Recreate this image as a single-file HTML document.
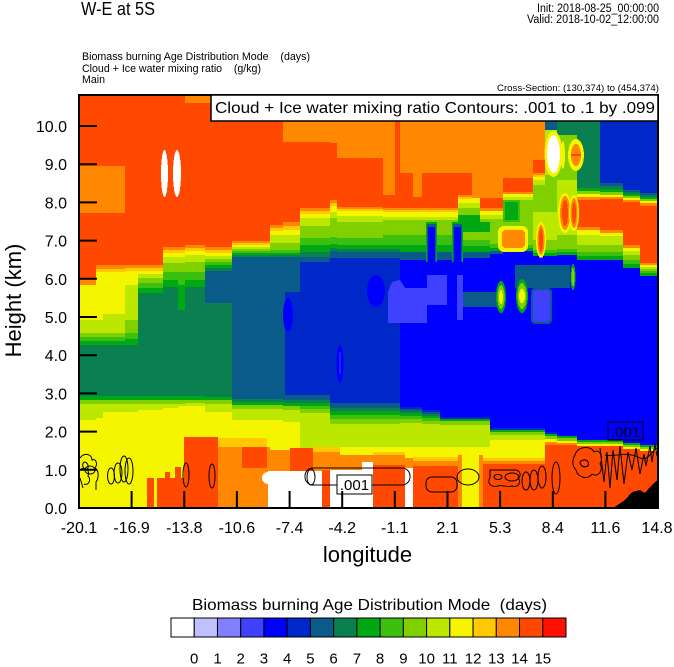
<!DOCTYPE html>
<html><head><meta charset="utf-8"><style>
html,body{margin:0;padding:0;background:#fff;width:674px;height:667px;overflow:hidden}
svg{display:block;overflow:hidden}
text{font-family:"Liberation Sans",Arial,sans-serif;fill:#000}
.c0{fill:#ffffff}.c1{fill:#c0c0ff}.c2{fill:#8080ff}.c3{fill:#4040ff}.c4{fill:#0000ff}.c5{fill:#0028c8}
.c6{fill:#0a5a8a}.c7{fill:#0a8050}.c8{fill:#00a814}.c9{fill:#3cc010}.c10{fill:#80d000}.c11{fill:#bce800}
.c12{fill:#f5f500}.c13{fill:#ffc800}.c14{fill:#ff8800}.c15{fill:#ff4800}.c16{fill:#ff1000}
.ct{fill:none;stroke:#000;stroke-width:1}
</style></head><body>
<svg width="674" height="667" viewBox="0 0 674 667" xmlns="http://www.w3.org/2000/svg">
<defs><clipPath id="p"><rect x="79" y="95" width="579" height="413"/></clipPath></defs>
<g clip-path="url(#p)" shape-rendering="crispEdges">
<rect x="79" y="95" width="579" height="413" class="c15"/>
<!-- S1 -->
<rect x="79" width="17" y="166" height="342" class="c14"/><rect x="79" width="17" y="213" height="295" class="c15"/><rect x="79" width="17" y="280" height="228" class="c14"/><rect x="79" width="17" y="285" height="223" class="c12"/><rect x="79" width="17" y="320" height="188" class="c11"/><rect x="79" width="17" y="333" height="175" class="c10"/><rect x="79" width="17" y="337" height="171" class="c9"/><rect x="79" width="17" y="341" height="167" class="c8"/><rect x="79" width="17" y="345" height="163" class="c7"/><rect x="79" width="17" y="396" height="112" class="c8"/><rect x="79" width="17" y="400" height="108" class="c10"/><rect x="79" width="17" y="404" height="104" class="c11"/><rect x="79" width="17" y="420" height="88" class="c12"/>
<!-- S2 -->
<rect x="96" width="7" y="166" height="342" class="c14"/><rect x="96" width="7" y="213" height="295" class="c15"/><rect x="96" width="7" y="265" height="243" class="c14"/><rect x="96" width="7" y="269" height="239" class="c13"/><rect x="96" width="7" y="272" height="236" class="c12"/><rect x="96" width="7" y="320" height="188" class="c11"/><rect x="96" width="7" y="333" height="175" class="c10"/><rect x="96" width="7" y="337" height="171" class="c9"/><rect x="96" width="7" y="341" height="167" class="c8"/><rect x="96" width="7" y="345" height="163" class="c7"/><rect x="96" width="7" y="396" height="112" class="c8"/><rect x="96" width="7" y="400" height="108" class="c10"/><rect x="96" width="7" y="404" height="104" class="c11"/><rect x="96" width="7" y="418" height="90" class="c12"/>
<!-- S3 -->
<rect x="103" width="22" y="166" height="342" class="c14"/><rect x="103" width="22" y="213" height="295" class="c15"/><rect x="103" width="22" y="265" height="243" class="c14"/><rect x="103" width="22" y="269" height="239" class="c13"/><rect x="103" width="22" y="272" height="236" class="c12"/><rect x="103" width="22" y="314" height="194" class="c11"/><rect x="103" width="22" y="333" height="175" class="c10"/><rect x="103" width="22" y="337" height="171" class="c9"/><rect x="103" width="22" y="341" height="167" class="c8"/><rect x="103" width="22" y="345" height="163" class="c7"/><rect x="103" width="22" y="396" height="112" class="c8"/><rect x="103" width="22" y="400" height="108" class="c10"/><rect x="103" width="22" y="404" height="104" class="c11"/><rect x="103" width="22" y="412" height="96" class="c12"/>
<!-- S4 -->
<rect x="125" width="13" y="265" height="243" class="c14"/><rect x="125" width="13" y="268" height="240" class="c13"/><rect x="125" width="13" y="271" height="237" class="c12"/><rect x="125" width="13" y="285" height="223" class="c11"/><rect x="125" width="13" y="320" height="188" class="c10"/><rect x="125" width="13" y="333" height="175" class="c9"/><rect x="125" width="13" y="339" height="169" class="c8"/><rect x="125" width="13" y="345" height="163" class="c7"/><rect x="125" width="13" y="396" height="112" class="c8"/><rect x="125" width="13" y="400" height="108" class="c10"/><rect x="125" width="13" y="404" height="104" class="c11"/><rect x="125" width="13" y="412" height="96" class="c12"/>
<!-- S5 -->
<rect x="138" width="25" y="265" height="243" class="c14"/><rect x="138" width="25" y="268" height="240" class="c13"/><rect x="138" width="25" y="271" height="237" class="c12"/><rect x="138" width="25" y="274" height="234" class="c11"/><rect x="138" width="25" y="278" height="230" class="c10"/><rect x="138" width="25" y="283" height="225" class="c9"/><rect x="138" width="25" y="288" height="220" class="c8"/><rect x="138" width="25" y="293" height="215" class="c7"/><rect x="138" width="25" y="396" height="112" class="c8"/><rect x="138" width="25" y="400" height="108" class="c10"/><rect x="138" width="25" y="404" height="104" class="c11"/><rect x="138" width="25" y="410" height="98" class="c12"/>
<!-- S6 -->
<rect x="163" width="15" y="247" height="261" class="c14"/><rect x="163" width="15" y="250" height="258" class="c13"/><rect x="163" width="15" y="253" height="255" class="c12"/><rect x="163" width="15" y="257" height="251" class="c11"/><rect x="163" width="15" y="263" height="245" class="c10"/><rect x="163" width="15" y="272" height="236" class="c9"/><rect x="163" width="15" y="280" height="228" class="c8"/><rect x="163" width="15" y="287" height="221" class="c7"/><rect x="163" width="15" y="396" height="112" class="c8"/><rect x="163" width="15" y="400" height="108" class="c10"/><rect x="163" width="15" y="404" height="104" class="c11"/><rect x="163" width="15" y="408" height="100" class="c12"/>
<!-- S7 -->
<rect x="178" width="7" y="247" height="261" class="c14"/><rect x="178" width="7" y="250" height="258" class="c13"/><rect x="178" width="7" y="253" height="255" class="c12"/><rect x="178" width="7" y="257" height="251" class="c11"/><rect x="178" width="7" y="263" height="245" class="c10"/><rect x="178" width="7" y="272" height="236" class="c9"/><rect x="178" width="7" y="285" height="223" class="c8"/><rect x="178" width="7" y="310" height="198" class="c7"/><rect x="178" width="7" y="396" height="112" class="c8"/><rect x="178" width="7" y="400" height="108" class="c10"/><rect x="178" width="7" y="404" height="104" class="c11"/><rect x="178" width="7" y="406" height="102" class="c12"/>
<!-- S8 -->
<rect x="185" width="20" y="245" height="263" class="c14"/><rect x="185" width="20" y="248" height="260" class="c13"/><rect x="185" width="20" y="251" height="257" class="c12"/><rect x="185" width="20" y="255" height="253" class="c11"/><rect x="185" width="20" y="262" height="246" class="c10"/><rect x="185" width="20" y="272" height="236" class="c9"/><rect x="185" width="20" y="280" height="228" class="c8"/><rect x="185" width="20" y="287" height="221" class="c7"/><rect x="185" width="20" y="396" height="112" class="c8"/><rect x="185" width="20" y="400" height="108" class="c10"/><rect x="185" width="20" y="403" height="105" class="c11"/><rect x="185" width="20" y="406" height="102" class="c12"/>
<!-- S9 -->
<rect x="205" width="27" y="247" height="261" class="c14"/><rect x="205" width="27" y="250" height="258" class="c13"/><rect x="205" width="27" y="253" height="255" class="c12"/><rect x="205" width="27" y="256" height="252" class="c11"/><rect x="205" width="27" y="259" height="249" class="c10"/><rect x="205" width="27" y="262" height="246" class="c9"/><rect x="205" width="27" y="265" height="243" class="c8"/><rect x="205" width="27" y="268" height="240" class="c7"/><rect x="205" width="27" y="397" height="111" class="c8"/><rect x="205" width="27" y="400" height="108" class="c10"/><rect x="205" width="27" y="404" height="104" class="c11"/><rect x="205" width="27" y="412" height="96" class="c12"/>
<!-- S10 -->
<rect x="232" width="38" y="241" height="267" class="c14"/><rect x="232" width="38" y="243" height="265" class="c13"/><rect x="232" width="38" y="245" height="263" class="c12"/><rect x="232" width="38" y="247" height="261" class="c11"/><rect x="232" width="38" y="249" height="259" class="c10"/><rect x="232" width="38" y="251" height="257" class="c9"/><rect x="232" width="38" y="253" height="255" class="c8"/><rect x="232" width="38" y="255" height="253" class="c7"/><rect x="232" width="38" y="257" height="251" class="c6"/><rect x="232" width="38" y="399" height="109" class="c7"/><rect x="232" width="38" y="402" height="106" class="c8"/><rect x="232" width="38" y="405" height="103" class="c10"/><rect x="232" width="38" y="409" height="99" class="c11"/><rect x="232" width="38" y="420" height="88" class="c12"/>
<!-- S11 -->
<rect x="270" width="13" y="225" height="283" class="c14"/><rect x="270" width="13" y="228" height="280" class="c13"/><rect x="270" width="13" y="231" height="277" class="c12"/><rect x="270" width="13" y="235" height="273" class="c11"/><rect x="270" width="13" y="243" height="265" class="c10"/><rect x="270" width="13" y="250" height="258" class="c9"/><rect x="270" width="13" y="253" height="255" class="c8"/><rect x="270" width="13" y="255" height="253" class="c7"/><rect x="270" width="13" y="257" height="251" class="c6"/><rect x="270" width="13" y="399" height="109" class="c7"/><rect x="270" width="13" y="402" height="106" class="c8"/><rect x="270" width="13" y="405" height="103" class="c10"/><rect x="270" width="13" y="409" height="99" class="c11"/><rect x="270" width="13" y="420" height="88" class="c12"/>
<!-- S12 -->
<rect x="283" width="17" y="95" height="413" class="c14"/><rect x="283" width="17" y="142" height="366" class="c15"/><rect x="283" width="17" y="222" height="286" class="c14"/><rect x="283" width="17" y="226" height="282" class="c13"/><rect x="283" width="17" y="230" height="278" class="c12"/><rect x="283" width="17" y="235" height="273" class="c11"/><rect x="283" width="17" y="243" height="265" class="c10"/><rect x="283" width="17" y="250" height="258" class="c9"/><rect x="283" width="17" y="253" height="255" class="c8"/><rect x="283" width="17" y="255" height="253" class="c7"/><rect x="283" width="17" y="257" height="251" class="c6"/><rect x="285" width="15" y="292" height="216" class="c5"/><rect x="283" width="17" y="395" height="113" class="c6"/><rect x="283" width="17" y="400" height="108" class="c7"/><rect x="283" width="17" y="403" height="105" class="c8"/><rect x="283" width="17" y="406" height="102" class="c10"/><rect x="283" width="17" y="410" height="98" class="c11"/><rect x="283" width="17" y="422" height="86" class="c12"/>
<!-- S13 -->
<rect x="300" width="30" y="95" height="413" class="c14"/><rect x="300" width="30" y="142" height="366" class="c15"/><rect x="300" width="30" y="208" height="300" class="c14"/><rect x="300" width="30" y="211" height="297" class="c13"/><rect x="300" width="30" y="214" height="294" class="c12"/><rect x="300" width="30" y="218" height="290" class="c11"/><rect x="300" width="30" y="226" height="282" class="c10"/><rect x="300" width="30" y="238" height="270" class="c9"/><rect x="300" width="30" y="245" height="263" class="c8"/><rect x="300" width="30" y="252" height="256" class="c7"/><rect x="300" width="30" y="257" height="251" class="c6"/><rect x="300" width="30" y="262" height="246" class="c5"/><rect x="300" width="30" y="395" height="113" class="c6"/><rect x="300" width="30" y="400" height="108" class="c7"/><rect x="300" width="30" y="403" height="105" class="c8"/><rect x="300" width="30" y="406" height="102" class="c9"/><rect x="300" width="30" y="409" height="99" class="c10"/><rect x="300" width="30" y="413" height="95" class="c11"/><rect x="300" width="30" y="450" height="58" class="c12"/>
<!-- S14 -->
<rect x="330" width="7" y="95" height="413" class="c14"/><rect x="330" width="7" y="143" height="365" class="c15"/><rect x="330" width="7" y="200" height="308" class="c14"/><rect x="330" width="7" y="203" height="305" class="c13"/><rect x="330" width="7" y="206" height="302" class="c12"/><rect x="330" width="7" y="212" height="296" class="c11"/><rect x="330" width="7" y="218" height="290" class="c10"/><rect x="330" width="7" y="237" height="271" class="c9"/><rect x="330" width="7" y="244" height="264" class="c8"/><rect x="330" width="7" y="248" height="260" class="c7"/><rect x="330" width="7" y="251" height="257" class="c6"/><rect x="330" width="7" y="258" height="250" class="c5"/><rect x="330" width="7" y="403" height="105" class="c6"/><rect x="330" width="7" y="408" height="100" class="c7"/><rect x="330" width="7" y="411" height="97" class="c8"/><rect x="330" width="7" y="415" height="93" class="c9"/><rect x="330" width="7" y="419" height="89" class="c10"/><rect x="330" width="7" y="424" height="84" class="c11"/><rect x="330" width="7" y="447" height="61" class="c12"/>
<!-- S15 -->
<rect x="337" width="46" y="95" height="413" class="c14"/><rect x="337" width="46" y="158" height="350" class="c15"/><rect x="337" width="46" y="207" height="301" class="c14"/><rect x="337" width="46" y="209" height="299" class="c13"/><rect x="337" width="46" y="211" height="297" class="c12"/><rect x="337" width="46" y="216" height="292" class="c11"/><rect x="337" width="46" y="222" height="286" class="c10"/><rect x="337" width="46" y="238" height="270" class="c9"/><rect x="337" width="46" y="245" height="263" class="c8"/><rect x="337" width="46" y="249" height="259" class="c7"/><rect x="337" width="46" y="252" height="256" class="c6"/><rect x="337" width="46" y="258" height="250" class="c5"/><rect x="337" width="46" y="403" height="105" class="c6"/><rect x="337" width="46" y="408" height="100" class="c7"/><rect x="337" width="46" y="411" height="97" class="c8"/><rect x="337" width="46" y="415" height="93" class="c9"/><rect x="337" width="46" y="419" height="89" class="c10"/><rect x="337" width="46" y="424" height="84" class="c11"/><rect x="337" width="46" y="447" height="61" class="c12"/>
<!-- S16 -->
<rect x="383" width="12" y="95" height="413" class="c14"/><rect x="383" width="12" y="195" height="313" class="c15"/><rect x="383" width="17" y="208" height="300" class="c14"/><rect x="383" width="17" y="210" height="298" class="c13"/><rect x="383" width="17" y="212" height="296" class="c12"/><rect x="383" width="17" y="217" height="291" class="c11"/><rect x="383" width="17" y="220" height="288" class="c10"/><rect x="383" width="17" y="235" height="273" class="c9"/><rect x="383" width="17" y="245" height="263" class="c8"/><rect x="383" width="17" y="249" height="259" class="c7"/><rect x="383" width="17" y="252" height="256" class="c6"/><rect x="383" width="17" y="258" height="250" class="c5"/><rect x="383" width="17" y="403" height="105" class="c6"/><rect x="383" width="17" y="408" height="100" class="c7"/><rect x="383" width="17" y="411" height="97" class="c8"/><rect x="383" width="17" y="415" height="93" class="c9"/><rect x="383" width="17" y="419" height="89" class="c10"/><rect x="383" width="17" y="424" height="84" class="c11"/><rect x="383" width="17" y="447" height="61" class="c12"/>
<rect x="395" width="5" y="173" height="35" class="c15"/>
<!-- S18-S21 -->
<rect x="400" width="58" y="95" height="413" class="c14"/><rect x="400" width="58" y="173" height="335" class="c15"/><rect x="413" width="9" y="173" height="24" class="c14"/>
<rect x="400" width="58" y="208" height="300" class="c14"/><rect x="400" width="58" y="210" height="298" class="c13"/><rect x="400" width="58" y="212" height="296" class="c12"/><rect x="400" width="58" y="217" height="291" class="c11"/><rect x="400" width="58" y="220" height="288" class="c10"/><rect x="400" width="58" y="235" height="273" class="c9"/><rect x="400" width="58" y="245" height="263" class="c8"/><rect x="400" width="58" y="252" height="256" class="c6"/><rect x="400" width="58" y="260" height="248" class="c4"/>
<!-- S22 458-472 -->
<rect x="458" width="14" y="95" height="413" class="c14"/><rect x="458" width="14" y="173" height="335" class="c15"/><rect x="458" width="14" y="195" height="313" class="c14"/><rect x="458" width="14" y="197" height="311" class="c13"/><rect x="458" width="14" y="199" height="309" class="c12"/><rect x="458" width="14" y="203" height="305" class="c11"/><rect x="458" width="14" y="208" height="300" class="c10"/><rect x="458" width="14" y="215" height="293" class="c8"/><rect x="458" width="14" y="232" height="276" class="c10"/><rect x="458" width="14" y="240" height="268" class="c9"/><rect x="458" width="14" y="246" height="262" class="c8"/><rect x="458" width="14" y="252" height="256" class="c6"/><rect x="458" width="14" y="258" height="250" class="c4"/>
<!-- S23 472-480 -->
<rect x="472" width="8" y="95" height="413" class="c14"/><rect x="472" width="8" y="198" height="310" class="c12"/><rect x="472" width="8" y="203" height="305" class="c11"/><rect x="472" width="8" y="208" height="300" class="c10"/><rect x="472" width="8" y="215" height="293" class="c8"/><rect x="472" width="8" y="232" height="276" class="c10"/><rect x="472" width="8" y="240" height="268" class="c9"/><rect x="472" width="8" y="246" height="262" class="c8"/><rect x="472" width="8" y="252" height="256" class="c6"/><rect x="472" width="8" y="258" height="250" class="c4"/>
<!-- S24 480-490 -->
<rect x="480" width="10" y="95" height="413" class="c14"/><rect x="480" width="10" y="198" height="310" class="c15"/><rect x="480" width="10" y="208" height="300" class="c14"/><rect x="480" width="10" y="211" height="297" class="c12"/><rect x="480" width="10" y="215" height="293" class="c11"/><rect x="480" width="10" y="219" height="289" class="c10"/><rect x="480" width="10" y="222" height="286" class="c8"/><rect x="480" width="10" y="232" height="276" class="c10"/><rect x="480" width="10" y="240" height="268" class="c9"/><rect x="480" width="10" y="246" height="262" class="c8"/><rect x="480" width="10" y="252" height="256" class="c6"/><rect x="480" width="10" y="258" height="250" class="c4"/>
<!-- lower bands 400-490 -->
<rect x="400" width="22" y="407" height="101" class="c5"/><rect x="400" width="22" y="409" height="99" class="c6"/><rect x="400" width="22" y="411" height="97" class="c7"/><rect x="400" width="22" y="413" height="95" class="c8"/><rect x="400" width="22" y="416" height="92" class="c9"/><rect x="400" width="22" y="419" height="89" class="c10"/><rect x="400" width="22" y="423" height="85" class="c11"/><rect x="400" width="22" y="447" height="61" class="c12"/>
<rect x="422" width="18" y="410" height="98" class="c5"/><rect x="422" width="18" y="412" height="96" class="c6"/><rect x="422" width="18" y="414" height="94" class="c7"/><rect x="422" width="18" y="416" height="92" class="c8"/><rect x="422" width="18" y="418" height="90" class="c9"/><rect x="422" width="18" y="421" height="87" class="c10"/><rect x="422" width="18" y="424" height="84" class="c11"/><rect x="422" width="18" y="447" height="61" class="c12"/>
<rect x="440" width="50" y="417" height="91" class="c5"/><rect x="440" width="50" y="419" height="89" class="c8"/><rect x="440" width="50" y="421" height="87" class="c10"/><rect x="440" width="50" y="425" height="83" class="c11"/><rect x="440" width="50" y="447" height="61" class="c12"/>
<!-- S25 490-503 -->
<rect x="490" width="13" y="95" height="413" class="c14"/><rect x="490" width="13" y="198" height="310" class="c15"/><rect x="490" width="13" y="208" height="300" class="c14"/><rect x="490" width="13" y="211" height="297" class="c12"/><rect x="490" width="13" y="215" height="293" class="c11"/><rect x="490" width="13" y="219" height="289" class="c10"/><rect x="490" width="13" y="244" height="264" class="c9"/><rect x="490" width="13" y="248" height="260" class="c8"/><rect x="490" width="13" y="251" height="257" class="c6"/><rect x="490" width="13" y="254" height="254" class="c4"/>
<!-- S26 503-533 -->
<rect x="503" width="30" y="95" height="413" class="c14"/><rect x="503" width="30" y="178" height="330" class="c15"/><rect x="503" width="30" y="192" height="316" class="c14"/><rect x="503" width="30" y="194" height="314" class="c12"/><rect x="503" width="30" y="197" height="311" class="c11"/><rect x="503" width="30" y="200" height="308" class="c10"/><rect x="503" width="30" y="245" height="263" class="c9"/><rect x="503" width="30" y="248" height="260" class="c8"/><rect x="503" width="30" y="251" height="257" class="c4"/>
<!-- S27 533-545 -->
<rect x="533" width="12" y="95" height="413" class="c14"/><rect x="533" width="12" y="160" height="348" class="c15"/><rect x="533" width="12" y="173" height="335" class="c14"/><rect x="533" width="12" y="175" height="333" class="c13"/><rect x="533" width="12" y="177" height="331" class="c12"/><rect x="533" width="12" y="180" height="328" class="c11"/><rect x="533" width="12" y="185" height="323" class="c10"/><rect x="533" width="12" y="212" height="296" class="c11"/><rect x="533" width="12" y="240" height="268" class="c10"/><rect x="533" width="12" y="250" height="258" class="c9"/><rect x="533" width="12" y="253" height="255" class="c8"/><rect x="533" width="12" y="256" height="252" class="c4"/>
<rect x="490" width="55" y="428" height="80" class="c5"/><rect x="490" width="55" y="430" height="78" class="c8"/><rect x="490" width="55" y="432" height="76" class="c10"/><rect x="490" width="55" y="435" height="73" class="c11"/><rect x="490" width="55" y="440" height="68" class="c12"/>
<!-- S28 545-557 -->
<rect x="545" width="12" y="95" height="413" class="c6"/><rect x="545" width="12" y="130" height="378" class="c11"/><rect x="545" width="12" y="175" height="333" class="c10"/><rect x="545" width="12" y="212" height="296" class="c11"/><rect x="545" width="12" y="240" height="268" class="c10"/><rect x="545" width="12" y="250" height="258" class="c9"/><rect x="545" width="12" y="253" height="255" class="c8"/><rect x="545" width="12" y="256" height="252" class="c4"/><rect x="545" width="12" y="432" height="76" class="c5"/><rect x="545" width="12" y="434" height="74" class="c8"/><rect x="545" width="12" y="436" height="72" class="c10"/><rect x="545" width="12" y="439" height="69" class="c12"/><rect x="545" width="12" y="442" height="66" class="c14"/><rect x="545" width="12" y="445" height="63" class="c15"/>
<!-- S29 557-577 -->
<rect x="557" width="20" y="95" height="413" class="c7"/><rect x="557" width="20" y="135" height="373" class="c10"/><rect x="557" width="20" y="180" height="328" class="c11"/><rect x="557" width="20" y="235" height="273" class="c10"/><rect x="557" width="20" y="249" height="259" class="c9"/><rect x="557" width="20" y="252" height="256" class="c8"/><rect x="557" width="20" y="255" height="253" class="c4"/><rect x="557" width="20" y="436" height="72" class="c8"/><rect x="557" width="20" y="438" height="70" class="c10"/><rect x="557" width="20" y="441" height="67" class="c12"/><rect x="557" width="20" y="443" height="65" class="c14"/><rect x="557" width="20" y="445" height="63" class="c15"/>
<!-- S30 577-600 -->
<rect x="577" width="23" y="95" height="413" class="c7"/><rect x="577" width="23" y="188" height="320" class="c8"/><rect x="577" width="23" y="191" height="317" class="c10"/><rect x="577" width="23" y="194" height="314" class="c12"/><rect x="577" width="23" y="197" height="311" class="c14"/><rect x="577" width="23" y="200" height="308" class="c15"/><rect x="577" width="23" y="227" height="281" class="c14"/><rect x="577" width="23" y="230" height="278" class="c12"/><rect x="577" width="23" y="235" height="273" class="c11"/><rect x="577" width="23" y="245" height="263" class="c10"/><rect x="577" width="23" y="252" height="256" class="c9"/><rect x="577" width="23" y="256" height="252" class="c8"/><rect x="577" width="23" y="260" height="248" class="c4"/><rect x="577" width="23" y="440" height="68" class="c8"/><rect x="577" width="23" y="442" height="66" class="c10"/><rect x="577" width="23" y="444" height="64" class="c12"/><rect x="577" width="23" y="446" height="62" class="c15"/>
<!-- S31 600-623 -->
<rect x="600" width="23" y="95" height="413" class="c5"/><rect x="600" width="23" y="183" height="325" class="c6"/><rect x="600" width="23" y="186" height="322" class="c7"/><rect x="600" width="23" y="189" height="319" class="c8"/><rect x="600" width="23" y="192" height="316" class="c10"/><rect x="600" width="23" y="195" height="313" class="c12"/><rect x="600" width="23" y="197" height="311" class="c14"/><rect x="600" width="23" y="199" height="309" class="c15"/><rect x="600" width="23" y="230" height="278" class="c14"/><rect x="600" width="23" y="233" height="275" class="c12"/><rect x="600" width="23" y="236" height="272" class="c11"/><rect x="600" width="23" y="245" height="263" class="c10"/><rect x="600" width="23" y="252" height="256" class="c9"/><rect x="600" width="23" y="256" height="252" class="c8"/><rect x="600" width="23" y="260" height="248" class="c4"/><rect x="600" width="23" y="440" height="68" class="c8"/><rect x="600" width="23" y="442" height="66" class="c10"/><rect x="600" width="23" y="444" height="64" class="c12"/><rect x="600" width="23" y="446" height="62" class="c15"/>
<!-- S32 623-640 -->
<rect x="623" width="17" y="95" height="413" class="c5"/><rect x="623" width="17" y="190" height="318" class="c6"/><rect x="623" width="17" y="192" height="316" class="c7"/><rect x="623" width="17" y="194" height="314" class="c8"/><rect x="623" width="17" y="196" height="312" class="c10"/><rect x="623" width="17" y="198" height="310" class="c12"/><rect x="623" width="17" y="200" height="308" class="c14"/><rect x="623" width="17" y="202" height="306" class="c15"/><rect x="623" width="17" y="245" height="263" class="c14"/><rect x="623" width="17" y="248" height="260" class="c12"/><rect x="623" width="17" y="251" height="257" class="c11"/><rect x="623" width="17" y="255" height="253" class="c10"/><rect x="623" width="17" y="260" height="248" class="c9"/><rect x="623" width="17" y="264" height="244" class="c8"/><rect x="623" width="17" y="268" height="240" class="c4"/><rect x="623" width="17" y="443" height="65" class="c8"/><rect x="623" width="17" y="445" height="63" class="c10"/><rect x="623" width="17" y="447" height="61" class="c12"/><rect x="623" width="17" y="449" height="59" class="c15"/>
<!-- S33 640-658 -->
<rect x="640" width="18" y="95" height="413" class="c5"/><rect x="640" width="18" y="193" height="315" class="c6"/><rect x="640" width="18" y="195" height="313" class="c7"/><rect x="640" width="18" y="197" height="311" class="c8"/><rect x="640" width="18" y="199" height="309" class="c10"/><rect x="640" width="18" y="201" height="307" class="c12"/><rect x="640" width="18" y="203" height="305" class="c14"/><rect x="640" width="18" y="206" height="302" class="c15"/><rect x="640" width="18" y="263" height="245" class="c14"/><rect x="640" width="18" y="265" height="243" class="c12"/><rect x="640" width="18" y="267" height="241" class="c11"/><rect x="640" width="18" y="269" height="239" class="c10"/><rect x="640" width="18" y="271" height="237" class="c9"/><rect x="640" width="18" y="273" height="235" class="c8"/><rect x="640" width="18" y="276" height="232" class="c4"/><rect x="640" width="18" y="445" height="63" class="c8"/><rect x="640" width="18" y="447" height="61" class="c10"/><rect x="640" width="18" y="449" height="59" class="c12"/><rect x="640" width="18" y="451" height="57" class="c15"/>

<!-- top overlays -->
<rect x="185" y="95" width="26" height="8" class="c14"/>
<ellipse cx="164.5" cy="173.5" rx="3.5" ry="23.5" class="c0"/>
<ellipse cx="177" cy="173.5" rx="4" ry="23.5" class="c0"/>
<rect x="426" y="222" width="11" height="40" class="c8"/><rect x="427" y="224" width="9" height="38" class="c6"/><rect x="428" y="227" width="7" height="36" class="c4"/>
<rect x="452" y="222" width="11" height="40" class="c8"/><rect x="453" y="224" width="9" height="38" class="c6"/><rect x="454" y="227" width="7" height="36" class="c4"/>
<rect x="498" y="226" width="30" height="26" rx="6" class="c12"/><rect x="502" y="230" width="23" height="18" rx="4" class="c14"/>
<rect x="503" y="200" width="17" height="22" class="c9"/><rect x="505" y="202" width="13" height="18" class="c8"/>
<ellipse cx="541" cy="240" rx="5" ry="18" class="c12"/><ellipse cx="541" cy="240" rx="3.5" ry="15" class="c14"/><ellipse cx="541" cy="240" rx="2" ry="12" class="c15"/>
<ellipse cx="553.5" cy="154" rx="9" ry="23" class="c12"/><ellipse cx="553.5" cy="154" rx="6.5" ry="19" class="c0"/>
<ellipse cx="576" cy="155" rx="8" ry="16" class="c12"/><ellipse cx="576" cy="155" rx="5" ry="11" class="c14"/><rect x="571" y="154" width="10" height="2" class="c15"/>
<ellipse cx="563" cy="155" rx="2" ry="14" class="c12"/>
<ellipse cx="565" cy="213" rx="7" ry="20" class="c12"/><ellipse cx="565" cy="213" rx="5" ry="17" class="c14"/><ellipse cx="565" cy="213" rx="3" ry="13" class="c15"/>
<ellipse cx="574" cy="213" rx="5" ry="18" class="c12"/><ellipse cx="574" cy="213" rx="3.5" ry="15" class="c14"/><ellipse cx="574" cy="213" rx="2" ry="11" class="c15"/>
<!-- mid overlays -->
<rect x="205" y="271" width="27" height="32" class="c6"/>
<ellipse cx="288" cy="315" rx="5" ry="17" class="c4"/>
<ellipse cx="340" cy="364" rx="3.5" ry="19" class="c4"/><rect x="339.5" y="352" width="1" height="22" class="c3"/>
<ellipse cx="376" cy="291" rx="9" ry="16" class="c4"/>
<polygon points="388,292 392,282 400,280 405,288 427,288 427,275 447,275 447,305 427,305 427,323 388,323" class="c3"/>
<rect x="457" y="275" width="6" height="45" class="c3"/>
<rect x="463" y="292" width="37" height="15" class="c6"/>
<rect x="515" y="265" width="55" height="23" class="c6"/>
<ellipse cx="501" cy="297" rx="5" ry="16" class="c8"/><ellipse cx="501" cy="297" rx="3.5" ry="12" class="c10"/><ellipse cx="501" cy="297" rx="2" ry="7" class="c12"/>
<ellipse cx="522" cy="296" rx="6" ry="17" class="c8"/><ellipse cx="522" cy="296" rx="4.5" ry="13" class="c10"/><ellipse cx="522" cy="296" rx="3" ry="7" class="c12"/>
<rect x="531" y="288" width="21" height="36" rx="4" class="c6"/><rect x="533" y="290" width="17" height="32" rx="3" class="c3"/>
<ellipse cx="573" cy="277" rx="2.5" ry="13" class="c8"/><ellipse cx="573" cy="277" rx="1.5" ry="9" class="c10"/>
<!-- bottom overlays -->
<rect x="147" y="478" width="7" height="30" class="c15"/>
<rect x="157" y="478" width="27" height="30" class="c15"/><rect x="165" y="472" width="5" height="36" class="c15"/><rect x="175" y="467" width="6" height="41" class="c15"/>
<rect x="184" y="437" width="34" height="71" class="c15"/>
<rect x="218" y="438" width="49" height="9" class="c13"/>
<rect x="218" y="447" width="52" height="61" class="c14"/>
<rect x="242" y="447" width="25" height="21" class="c15"/>
<rect x="270" y="450" width="20" height="58" class="c14"/>
<rect x="290" y="448" width="23" height="23" class="c15"/>
<rect x="313" y="447" width="27" height="5" class="c13"/><rect x="313" y="452" width="27" height="56" class="c14"/>
<rect x="268" y="471" width="54" height="37" class="c0"/><ellipse cx="268" cy="478" rx="6" ry="6" class="c0"/>
<rect x="322" y="470" width="8" height="38" class="c15"/>
<rect x="330" y="455" width="43" height="53" class="c14"/><rect x="330" y="470" width="32" height="38" class="c0"/><rect x="362" y="462" width="11" height="46" class="c0"/>
<rect x="373" y="452" width="32" height="3" class="c13"/><rect x="373" y="455" width="32" height="10" class="c14"/><rect x="373" y="465" width="32" height="43" class="c15"/>
<rect x="405" y="458" width="8" height="10" class="c14"/><rect x="405" y="468" width="8" height="40" class="c0"/>
<rect x="413" y="457" width="45" height="4" class="c13"/><rect x="413" y="461" width="45" height="5" class="c14"/><rect x="413" y="466" width="45" height="42" class="c15"/>
<rect x="458" y="455" width="4" height="53" class="c14"/><rect x="479" y="455" width="4" height="53" class="c14"/>
<rect x="483" y="458" width="62" height="3" class="c13"/><rect x="483" y="461" width="62" height="3" class="c14"/><rect x="483" y="464" width="62" height="44" class="c15"/>
<polygon points="613,508 625,500 632,492 640,490 645,493 650,487 655,482 658,480 658,508" fill="#000"/>
</g>
<!-- contours -->
<g class="ct">
<path d="M80,458 C84,452 92,454 92,460 C96,458 98,464 95,468 C99,470 99,478 96,482 L96,490 M80,470 C85,466 90,470 88,476 C92,480 88,486 84,484 M84,462 C88,462 90,468 86,470 C82,468 82,464 84,462 M80,478 L83,488"/>
<ellipse cx="90" cy="470" rx="5" ry="4"/>
<ellipse cx="111" cy="476" rx="3.5" ry="8"/><ellipse cx="118" cy="473" rx="4" ry="10"/><ellipse cx="124" cy="469" rx="4" ry="13"/><ellipse cx="129" cy="471" rx="4" ry="13"/>
<ellipse cx="186" cy="475" rx="3" ry="12"/><ellipse cx="212" cy="476" rx="3" ry="12"/>
<rect x="305" y="468" width="105" height="17" rx="8" ry="8"/>
<ellipse cx="311" cy="477" rx="4" ry="8"/>
<rect x="426" y="477" width="31" height="15" rx="6"/>
<ellipse cx="468" cy="477" rx="11" ry="8"/>
<path d="M490,470 L515,470 C520,470 522,476 518,478 C522,482 518,488 512,486 C506,488 502,484 498,486 C490,488 487,482 490,478 Z"/>
<ellipse cx="498" cy="477" rx="4" ry="2.5"/><ellipse cx="512" cy="477" rx="7" ry="4"/>
<ellipse cx="526" cy="481" rx="4" ry="9"/><ellipse cx="534" cy="480" rx="4" ry="10"/><ellipse cx="542" cy="477" rx="4" ry="11"/><ellipse cx="556" cy="478" rx="4" ry="16"/>
<path d="M575,455 C578,445 592,446 594,452 C600,448 604,458 600,464 C604,470 598,478 592,474 C588,480 578,478 576,470 C572,466 572,460 575,455 Z"/>
<path d="M580,462 C584,458 590,460 588,466 C584,468 580,466 580,462 Z"/>
<path d="M600,448 L604,482 L607,452 L610,488 L613,450 L617,480 L620,446 L624,484 L628,452 L632,470 L636,448 L640,474 L644,454 L646,466 L650,446 L652,462 L655,444 L657,456"/>
<path d="M605,455 C615,458 625,450 640,458 C648,462 652,450 657,448"/>
</g>
<rect x="337" y="475" width="35" height="19" fill="#fff" stroke="#000" stroke-width="1"/>
<text x="354.5" y="490" font-size="15" text-anchor="middle">.001</text>
<rect x="608" y="422" width="35" height="18" fill="none" stroke="#000" stroke-width="1"/>
<text x="625.5" y="437" font-size="15" text-anchor="middle">.001</text>
<!-- frame & ticks -->
<rect x="79" y="95" width="579" height="413" fill="none" stroke="#000" stroke-width="2"/>
<g stroke="#000" stroke-width="2">
<line x1="79" x2="97" y1="126" y2="126"/><line x1="79" x2="97" y1="164.2" y2="164.2"/><line x1="79" x2="97" y1="202.4" y2="202.4"/><line x1="79" x2="97" y1="240.6" y2="240.6"/><line x1="79" x2="97" y1="278.8" y2="278.8"/><line x1="79" x2="97" y1="317" y2="317"/><line x1="79" x2="97" y1="355.2" y2="355.2"/><line x1="79" x2="97" y1="393.4" y2="393.4"/><line x1="79" x2="97" y1="431.6" y2="431.6"/><line x1="79" x2="97" y1="469.8" y2="469.8"/>
<line y1="508" y2="491" x1="131.6" x2="131.6"/><line y1="508" y2="491" x1="184.3" x2="184.3"/><line y1="508" y2="491" x1="236.9" x2="236.9"/><line y1="508" y2="491" x1="289.6" x2="289.6"/><line y1="508" y2="491" x1="342.2" x2="342.2"/><line y1="508" y2="491" x1="394.8" x2="394.8"/><line y1="508" y2="491" x1="447.5" x2="447.5"/><line y1="508" y2="491" x1="500.1" x2="500.1"/><line y1="508" y2="491" x1="552.8" x2="552.8"/><line y1="508" y2="491" x1="605.4" x2="605.4"/>
</g>
<!-- legend box -->
<rect x="211" y="95" width="447" height="26" fill="#fff" stroke="#000" stroke-width="1.5"/>
<text x="215" y="113" font-size="16" textLength="440" lengthAdjust="spacingAndGlyphs">Cloud + Ice water mixing ratio Contours: .001 to .1 by .099</text>
<!-- y labels -->
<g font-size="16" text-anchor="end">
<text x="67" y="132">10.0</text><text x="67" y="170.2">9.0</text><text x="67" y="208.4">8.0</text><text x="67" y="246.6">7.0</text><text x="67" y="284.8">6.0</text><text x="67" y="323">5.0</text><text x="67" y="361.2">4.0</text><text x="67" y="399.4">3.0</text><text x="67" y="437.6">2.0</text><text x="67" y="475.8">1.0</text><text x="67" y="514">0.0</text>
</g>
<g font-size="16" text-anchor="middle">
<text x="79" y="533">-20.1</text><text x="131.6" y="533">-16.9</text><text x="184.3" y="533">-13.8</text><text x="236.9" y="533">-10.6</text><text x="289.6" y="533">-7.4</text><text x="342.2" y="533">-4.2</text><text x="394.8" y="533">-1.1</text><text x="447.5" y="533">2.1</text><text x="500.1" y="533">5.3</text><text x="552.8" y="533">8.4</text><text x="605.4" y="533">11.6</text><text x="657" y="533">14.8</text>
</g>
<text x="367.5" y="562" font-size="22" text-anchor="middle">longitude</text>
<text transform="translate(21,300.5) rotate(-90)" font-size="22" text-anchor="middle">Height (km)</text>
<!-- headers -->
<text x="81" y="15" font-size="18" textLength="74" lengthAdjust="spacingAndGlyphs">W-E at 5S</text>
<text x="537" y="12" font-size="11.5" textLength="122" lengthAdjust="spacingAndGlyphs">Init: 2018-08-25_00:00:00</text>
<text x="527" y="23" font-size="11.5" textLength="132" lengthAdjust="spacingAndGlyphs">Valid: 2018-10-02_12:00:00</text>
<text x="82" y="60" font-size="11" textLength="228" lengthAdjust="spacingAndGlyphs" xml:space="preserve">Biomass burning Age Distribution Mode    (days)</text>
<text x="82" y="72" font-size="11" textLength="179" lengthAdjust="spacingAndGlyphs" xml:space="preserve">Cloud + Ice water mixing ratio    (g/kg)</text>
<text x="82" y="83" font-size="11" textLength="23" lengthAdjust="spacingAndGlyphs">Main</text>
<text x="497" y="91" font-size="9.5" textLength="162" lengthAdjust="spacingAndGlyphs">Cross-Section: (130,374) to (454,374)</text>
<!-- colorbar -->
<text x="192" y="610" font-size="16" textLength="355" lengthAdjust="spacingAndGlyphs" xml:space="preserve">Biomass burning Age Distribution Mode  (days)</text>
<g stroke="#000" stroke-width="1">
<rect x="171" y="618" width="23.24" height="19" class="c0"/><rect x="194.24" y="618" width="23.24" height="19" class="c1"/><rect x="217.47" y="618" width="23.24" height="19" class="c2"/><rect x="240.71" y="618" width="23.24" height="19" class="c3"/><rect x="263.94" y="618" width="23.24" height="19" class="c4"/><rect x="287.18" y="618" width="23.24" height="19" class="c5"/><rect x="310.41" y="618" width="23.24" height="19" class="c6"/><rect x="333.65" y="618" width="23.24" height="19" class="c7"/><rect x="356.88" y="618" width="23.24" height="19" class="c8"/><rect x="380.12" y="618" width="23.24" height="19" class="c9"/><rect x="403.35" y="618" width="23.24" height="19" class="c10"/><rect x="426.59" y="618" width="23.24" height="19" class="c11"/><rect x="449.82" y="618" width="23.24" height="19" class="c12"/><rect x="473.06" y="618" width="23.24" height="19" class="c13"/><rect x="496.29" y="618" width="23.24" height="19" class="c14"/><rect x="519.53" y="618" width="23.24" height="19" class="c15"/><rect x="542.76" y="618" width="23.24" height="19" class="c16"/>
</g>
<g font-size="15" text-anchor="middle">
<text x="194.2" y="663.5">0</text><text x="217.5" y="663.5">1</text><text x="240.7" y="663.5">2</text><text x="263.9" y="663.5">3</text><text x="287.2" y="663.5">4</text><text x="310.4" y="663.5">5</text><text x="333.6" y="663.5">6</text><text x="356.9" y="663.5">7</text><text x="380.1" y="663.5">8</text><text x="403.4" y="663.5">9</text><text x="426.6" y="663.5">10</text><text x="449.8" y="663.5">11</text><text x="473.1" y="663.5">12</text><text x="496.3" y="663.5">13</text><text x="519.5" y="663.5">14</text><text x="542.8" y="663.5">15</text>
</g>
</svg>
</body></html>
